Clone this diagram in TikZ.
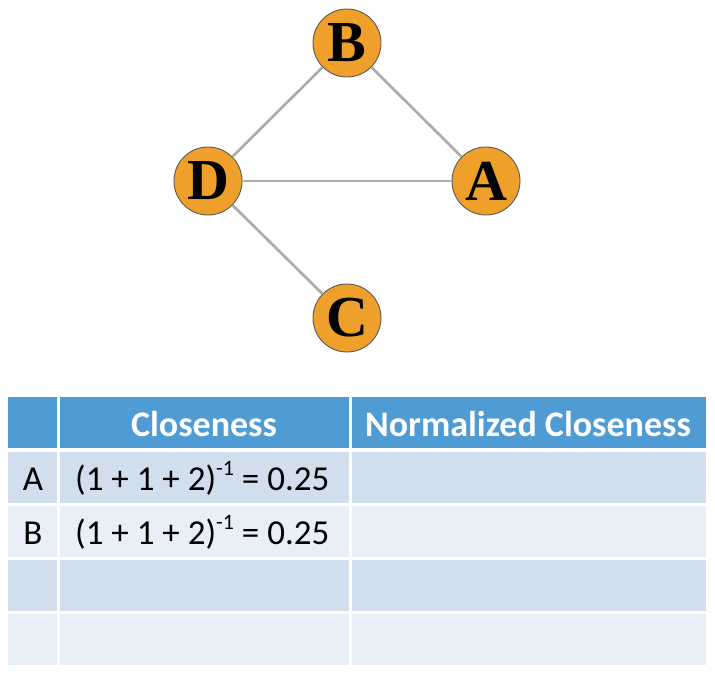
\documentclass[tikz,border=0pt]{standalone}
\usepackage{fontspec}
\setmainfont{Carlito}
\newfontfamily\letterfont{Liberation Serif}
\usepackage{tikz}
\usetikzlibrary{calc}
\definecolor{nodeorange}{RGB}{238,160,42}
\definecolor{edgegray}{RGB}{172,172,172}
\definecolor{headblue}{RGB}{79,155,211}
\definecolor{rowdark}{RGB}{208,222,238}
\definecolor{rowlight}{RGB}{233,239,247}
\tikzset{vertex/.style = {shape=circle,draw=black!65,line width=0.9pt,fill=nodeorange,minimum size=68pt,inner sep=0pt,
                          font=\letterfont\bfseries\fontsize{58}{58}\selectfont}}
\tikzset{edge/.style = {draw=edgegray,line width=2.7pt}}
\tikzset{headtxt/.style = {anchor=base,text=white,inner sep=0pt,font=\bfseries\fontsize{36}{36}\selectfont}}
\tikzset{celltxt/.style = {anchor=base,inner sep=0pt,font=\fontsize{35}{35}\selectfont}}
\newcommand{\invsum}{(1 + 1 + 2)\raisebox{0.42em}{\fontsize{22}{22}\selectfont -1} = 0.25}

\begin{document}
\begin{tikzpicture}[x=1pt,y=-1pt]
    \useasboundingbox (0,0) rectangle (715,675);

    % graph
    \node[vertex] (B) at (347,43) {B};
    \node[vertex] (D) at (208,181) {D};
    \node[vertex] (A) at (486,181) {A};
    \node[vertex] (C) at (347,318) {C};

    \draw[edge] (D) -- (B);
    \draw[edge] (B) -- (A);
    \draw[edge] (D) -- (A);
    \draw[edge] (D) -- (C);

    % table cells
    \foreach \xa/\xb in {8/56.5, 59.5/348.5, 351.5/706} {
        \fill[headblue] (\xa,397) rectangle (\xb,448);
        \fill[rowdark]  (\xa,452) rectangle (\xb,502.5);
        \fill[rowlight] (\xa,505.5) rectangle (\xb,556.5);
        \fill[rowdark]  (\xa,559.5) rectangle (\xb,610.5);
        \fill[rowlight] (\xa,613.5) rectangle (\xb,665);
    }

    % table text
    \node[headtxt] (hclose) at (204,436) {Closeness};
    \node[headtxt] (hnorm) at (528,436) {Normalized Closeness};
    \node[celltxt] (ra) at (33,490) {A};
    \node[celltxt] (rb) at (33,544) {B};
    \node[celltxt,anchor=base west] (fa) at (75,490) {\invsum};
    \node[celltxt,anchor=base west] (fb) at (75,544) {\invsum};
\end{tikzpicture}
\end{document}
